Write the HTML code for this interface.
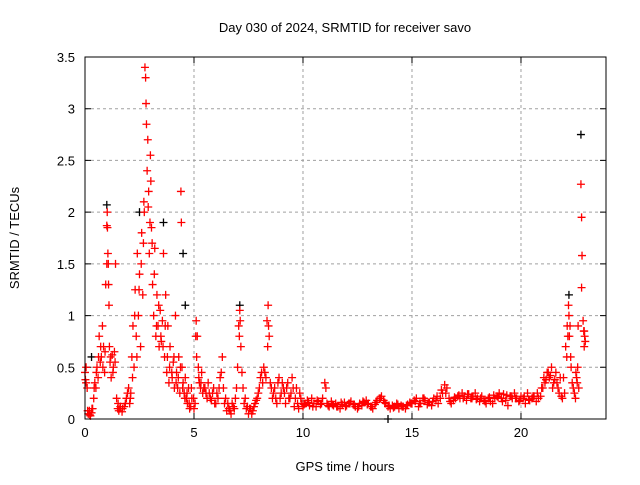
<!DOCTYPE html>
<html><head><meta charset="utf-8"><style>
body{margin:0;background:#fff}
svg text{font-family:"Liberation Sans",sans-serif;font-size:13px;fill:#000}
</style></head><body>
<svg id="chart" width="640" height="480" xmlns="http://www.w3.org/2000/svg">
<rect width="640" height="480" fill="#fff"/>
<text x="345" y="32" text-anchor="middle">Day 030 of 2024, SRMTID for receiver savo</text>
<text x="345" y="471" text-anchor="middle">GPS time / hours</text>
<text transform="translate(19,238) rotate(-90)" text-anchor="middle">SRMTID / TECUs</text>
<g id="grid"></g>
<g id="ticks"></g>
<g id="black"></g>
<g id="red"></g>
<rect x="85" y="57" width="521" height="362" fill="none" stroke="#000" stroke-width="1"/>
</svg>
<script>
const xTicks=[0,5,10,15,20];
const yTicks=[0,0.5,1,1.5,2,2.5,3,3.5];
const yTickLabels=["0","0.5","1","1.5","2","2.5","3","3.5"];
const redT=[0,0.02,0.05,0.1,0.15,0.2,0.25,0.3,0.35,0.4,0.45,0.5,0.55,0.6,0.65,0.7,0.75,0.8,0.85,0.9,0.95,1.0,1.02,1.05,1.07,1.1,1.12,1.15,1.2,1.25,1.3,1.35,1.4,1.45,1.5,1.55,1.6,1.7,1.8,1.9,2.0,2.05,2.1,2.15,2.2,2.25,2.3,2.35,2.4,2.45,2.5,2.55,2.6,2.65,2.7,2.75,2.78,2.8,2.82,2.85,2.9,2.95,3.0,3.02,3.05,3.1,3.15,3.2,3.25,3.3,3.35,3.4,3.45,3.5,3.55,3.6,3.65,3.7,3.75,3.8,3.85,3.9,4.0,4.05,4.1,4.15,4.2,4.25,4.3,4.35,4.4,4.42,4.45,4.5,4.55,4.6,4.65,4.7,4.75,4.8,4.85,4.9,5.0,5.05,5.1,5.15,5.2,5.25,5.3,5.35,5.4,5.5,5.6,5.7,5.8,5.9,6.0,6.1,6.2,6.3,6.35,6.4,6.5,6.6,6.7,6.8,6.9,7.0,7.05,7.1,7.15,7.2,7.3,7.4,7.5,7.6,7.7,7.8,7.9,8.0,8.1,8.2,8.3,8.35,8.4,8.45,8.5,8.6,8.7,8.8,8.9,9.0,9.1,9.2,9.3,9.4,9.5,9.6,9.7,9.8,9.9,10.0,10.1,10.2,10.3,10.4,10.5,10.6,10.7,10.8,10.9,11.0,11.05,11.1,11.2,11.3,11.4,11.5,11.6,11.7,11.8,11.9,12.0,12.1,12.2,12.3,12.4,12.5,12.6,12.7,12.8,12.9,13.0,13.1,13.2,13.3,13.4,13.5,13.6,13.7,13.8,13.9,14.0,14.1,14.2,14.3,14.4,14.5,14.6,14.7,14.8,14.9,15.0,15.1,15.2,15.3,15.4,15.5,15.6,15.7,15.8,15.9,16.0,16.1,16.2,16.3,16.4,16.5,16.6,16.7,16.8,16.9,17.0,17.1,17.2,17.3,17.4,17.5,17.6,17.7,17.8,17.9,18.0,18.1,18.2,18.3,18.4,18.5,18.6,18.7,18.8,18.9,19.0,19.1,19.2,19.3,19.4,19.5,19.6,19.7,19.8,19.9,20.0,20.1,20.2,20.3,20.4,20.5,20.6,20.7,20.8,20.9,21.0,21.1,21.2,21.3,21.4,21.5,21.6,21.7,21.8,21.9,22.0,22.1,22.15,22.2,22.25,22.3,22.4,22.5,22.55,22.6,22.65,22.75,22.78,22.8,22.78,22.85,22.88,22.9,22.92,22.95];
const redV=[0.45,0.38,0.5,0.3,0.05,0.08,0.03,0.06,0.1,0.2,0.35,0.3,0.5,0.4,0.8,0.55,0.6,0.9,0.7,0.45,1.3,1.87,2.0,1.6,1.5,1.1,0.7,0.55,0.4,0.62,0.5,0.65,1.5,0.2,0.1,0.08,0.1,0.07,0.12,0.2,0.3,0.15,0.25,0.6,0.9,0.5,1.25,0.8,1.6,1.0,1.4,0.7,1.8,1.2,2.1,3.4,3.3,3.05,2.85,2.4,2.05,1.6,2.55,2.3,1.85,1.3,1.0,1.65,0.8,1.2,0.9,0.7,1.05,0.75,0.95,1.6,0.6,1.2,0.45,0.9,0.35,0.7,0.4,0.55,0.3,1.0,0.45,0.3,0.6,0.25,2.2,1.9,0.5,0.35,0.25,0.4,0.2,0.15,0.3,0.1,0.12,0.2,0.1,0.15,0.95,0.8,0.5,0.35,0.3,0.45,0.25,0.3,0.2,0.25,0.18,0.3,0.15,0.2,0.4,0.6,0.3,0.15,0.08,0.1,0.05,0.12,0.2,0.5,0.9,1.05,0.7,0.45,0.15,0.1,0.05,0.1,0.08,0.15,0.2,0.3,0.45,0.5,0.4,0.95,1.1,0.8,0.35,0.2,0.3,0.15,0.4,0.25,0.3,0.15,0.35,0.2,0.4,0.12,0.3,0.1,0.2,0.12,0.15,0.18,0.13,0.2,0.15,0.12,0.17,0.14,0.2,0.35,0.3,0.15,0.12,0.17,0.13,0.15,0.12,0.1,0.14,0.16,0.13,0.15,0.17,0.14,0.12,0.1,0.15,0.13,0.16,0.18,0.15,0.12,0.1,0.14,0.18,0.2,0.22,0.18,0.15,0.12,0.1,0.13,0.12,0.15,0.1,0.13,0.12,0.1,0.14,0.16,0.15,0.18,0.2,0.12,0.15,0.2,0.18,0.14,0.16,0.13,0.2,0.18,0.15,0.2,0.25,0.33,0.3,0.2,0.15,0.18,0.2,0.22,0.2,0.25,0.22,0.18,0.24,0.2,0.22,0.25,0.2,0.17,0.22,0.18,0.15,0.2,0.17,0.15,0.2,0.22,0.25,0.2,0.24,0.18,0.13,0.22,0.2,0.25,0.2,0.17,0.22,0.2,0.15,0.25,0.18,0.2,0.22,0.17,0.2,0.22,0.3,0.35,0.45,0.4,0.5,0.35,0.45,0.3,0.4,0.2,0.25,0.6,0.8,1.0,0.9,0.5,0.3,0.2,0.4,0.5,0.3,2.27,1.95,1.58,1.27,0.95,0.85,0.7,0.8,0.75];
const red2T=[0.05,0.12,0.22,0.32,0.42,0.52,0.62,0.72,0.82,0.92,1.0,1.03,1.08,1.18,1.28,1.38,1.52,1.62,1.72,1.85,1.95,2.08,2.18,2.28,2.38,2.48,2.58,2.68,2.72,2.88,2.92,2.98,3.08,3.18,3.28,3.38,3.48,3.58,3.68,3.78,3.88,3.98,4.08,4.18,4.28,4.38,4.48,4.58,4.68,4.78,4.88,4.98,5.08,5.12,5.22,5.32,5.45,5.55,5.65,5.75,5.85,5.95,6.05,6.15,6.25,6.45,6.55,6.65,6.75,6.85,6.95,7.08,7.12,7.25,7.35,7.45,7.55,7.65,7.75,7.85,7.95,8.05,8.15,8.25,8.38,8.42,8.55,8.65,8.75,8.85,8.95,9.05,9.15,9.25,9.35,9.45,9.55,9.65,9.75,9.85,9.95,10.05,10.25,10.45,10.65,10.85,11.15,11.35,11.55,11.75,11.95,12.15,12.35,12.55,12.75,12.95,13.15,13.35,13.55,13.75,13.95,14.15,14.35,14.55,14.75,14.95,15.15,15.35,15.55,15.75,15.95,16.15,16.35,16.55,16.75,16.95,17.15,17.35,17.55,17.75,17.95,18.15,18.35,18.55,18.75,18.95,19.15,19.35,19.55,19.75,19.95,20.15,20.35,20.55,20.75,20.95,21.05,21.15,21.25,21.35,21.45,21.55,21.65,21.75,21.85,21.95,22.05,22.12,22.18,22.22,22.28,22.35,22.45,22.52,22.58,22.62,22.9,22.93];
const red2V=[0.35,0.08,0.04,0.1,0.3,0.45,0.6,0.7,0.5,0.65,1.5,1.85,1.3,0.6,0.45,0.55,0.15,0.12,0.1,0.15,0.25,0.2,0.4,1.0,0.6,1.25,1.5,1.7,2.0,2.7,2.2,1.9,1.7,1.4,0.9,1.1,0.8,0.7,0.9,0.6,0.5,0.45,0.6,0.35,0.4,0.5,0.3,0.2,0.25,0.15,0.3,0.2,0.8,0.6,0.4,0.35,0.3,0.25,0.35,0.2,0.25,0.15,0.25,0.3,0.45,0.2,0.15,0.08,0.15,0.1,0.3,0.8,0.95,0.3,0.2,0.12,0.1,0.05,0.12,0.18,0.25,0.4,0.35,0.45,0.7,0.9,0.3,0.25,0.2,0.35,0.2,0.35,0.25,0.3,0.2,0.25,0.3,0.2,0.15,0.25,0.15,0.14,0.16,0.12,0.18,0.15,0.13,0.14,0.12,0.16,0.12,0.15,0.14,0.12,0.17,0.14,0.12,0.16,0.2,0.16,0.13,0.11,0.14,0.12,0.13,0.15,0.17,0.15,0.2,0.16,0.17,0.22,0.28,0.25,0.17,0.21,0.23,0.2,0.24,0.2,0.19,0.2,0.17,0.21,0.23,0.21,0.17,0.23,0.22,0.2,0.18,0.22,0.19,0.22,0.25,0.3,0.4,0.38,0.45,0.42,0.3,0.38,0.35,0.25,0.22,0.4,0.7,0.9,1.1,0.8,0.6,0.35,0.25,0.45,0.35,0.9,0.85];
const blackT=[22.75,4.5,7.1,4.6,2.5,1.0,22.2,3.6,0.3,13.9];
const blackV=[2.75,1.6,1.1,1.1,2.0,2.07,1.2,1.9,0.6,0.0];
const X0=85,X1=606,Y0=419,Y1=57,XMAX=23.9,YMAX=3.5;
const sx=t=>X0+t/XMAX*(X1-X0);
const sy=v=>Y0-v/YMAX*(Y0-Y1);
const NS="http://www.w3.org/2000/svg";
const grid=document.getElementById('grid'),ticks=document.getElementById('ticks');
function mk(tag,attrs,parent){const e=document.createElementNS(NS,tag);for(const k in attrs)e.setAttribute(k,attrs[k]);parent.appendChild(e);return e;}
xTicks.forEach(t=>{
 const x=sx(t);
 if(t>0){const g=mk('line',{x1:x,x2:x,y1:Y1,y2:Y0,stroke:'#a0a0a0','stroke-dasharray':'3,3'},grid);
 
 }
 const l=mk('text',{x:x,y:Y0+18,'text-anchor':'middle'},ticks);l.textContent=t;
 
 
 mk('path',{d:`M${x},${Y0}v-6M${x},${Y1}v6`,stroke:'#000'},ticks);
});
yTicks.forEach((v,i)=>{
 const y=sy(v);
 if(v>0&&v<YMAX){const g=mk('line',{x1:X0,x2:X1,y1:y,y2:y,stroke:'#a0a0a0','stroke-dasharray':'3,3'},grid);
 
 }
 const l=mk('text',{x:X0-10,y:y+5,'text-anchor':'end'},ticks);l.textContent=yTickLabels[i];
 
 
 mk('path',{d:`M${X0},${y}h6M${X1},${y}h-6`,stroke:'#000'},ticks);
});
function plot(T,V,col,g){
 T.forEach((t,i)=>{
  const x=sx(t),y=sy(V[i]);
  const p=mk('path',{d:`M${x-4},${y}h8M${x},${y-4}v8`,stroke:col,'stroke-width':1.3},g);
  
  
 });
}
plot(blackT,blackV,'#000',document.getElementById('black'));
plot(redT,redV,'#ff0000',document.getElementById('red'));
plot(red2T,red2V,'#ff0000',document.getElementById('red'));
</script>
</body></html>
